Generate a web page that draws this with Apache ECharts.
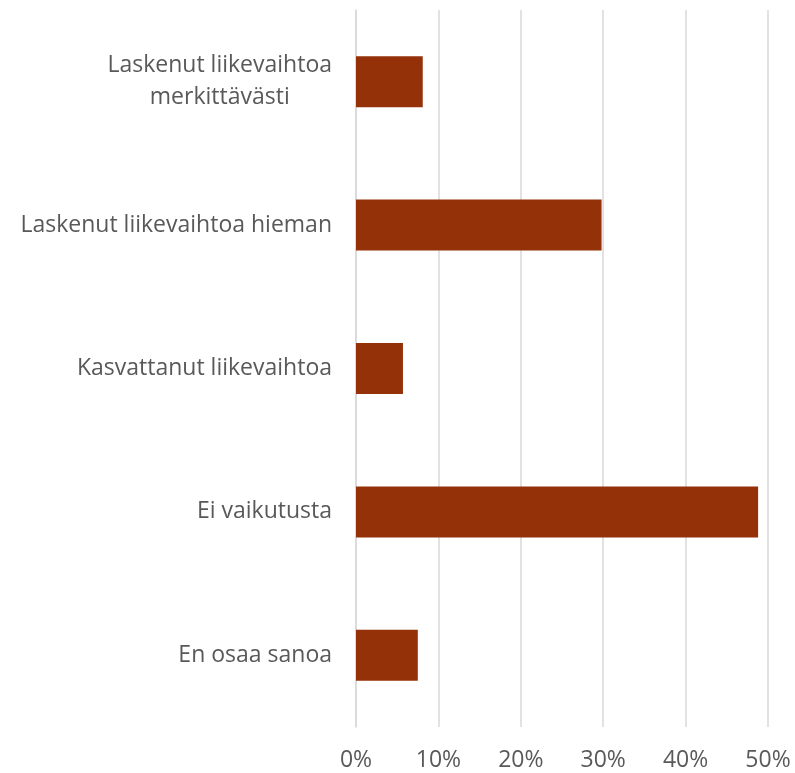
<!DOCTYPE html>
<html>
<head>
<meta charset="utf-8">
<script src="https://cdn.jsdelivr.net/npm/echarts@6/dist/echarts.min.js"></script>
<style>
  html, body { margin: 0; padding: 0; background: #fff; }
  #chart { width: 795px; height: 773px; }
</style>
</head>
<body>
<div id="chart"></div>
<script>
  // categories top to bottom as shown
  const categories = [
    'Laskenut liikevaihtoa\nmerkittävästi',
    'Laskenut liikevaihtoa hieman',
    'Kasvattanut liikevaihtoa',
    'Ei vaikutusta',
    'En osaa sanoa'
  ]
  // shares in percent
  const values = [8.1, 29.8, 5.7, 48.8, 7.5]
  const xTicks = [0, 10, 20, 30, 40, 50]

  const chart = echarts.init(document.getElementById('chart'))
  chart.setOption({
    animation: false,
    grid: { left: 356, right: 27, top: 10, bottom: 46 },
    xAxis: {
      type: 'value',
      min: xTicks[0],
      max: xTicks[xTicks.length - 1],
      interval: 10,
      axisLine: { show: false },
      axisTick: { show: false },
      splitLine: { lineStyle: { color: '#d9d9d9', width: 1.5 } },
      axisLabel: {
        color: '#595959',
        fontFamily: 'Open Sans',
        fontSize: 23,
        margin: 22,
        formatter: v => v + '%'
      }
    },
    yAxis: {
      type: 'category',
      inverse: true,
      data: categories,
      axisLine: { show: true, lineStyle: { color: '#d9d9d9', width: 1.5 } },
      axisTick: { show: false },
      axisLabel: {
        color: '#595959',
        fontFamily: 'Open Sans',
        fontSize: 23,
        margin: 24,
        lineHeight: 32,
        formatter: function (v) {
          // keep wrapped label lines centered on each other
          return v.split('\n').map(s => '{c|' + s + '}').join('\n')
        },
        rich: {
          c: { align: 'center', color: '#595959', fontFamily: 'Open Sans', fontSize: 23, lineHeight: 32 }
        }
      }
    },
    series: [
      {
        type: 'bar',
        data: values,
        barWidth: 51,
        itemStyle: { color: '#943109' }
      }
    ]
  })
</script>
</body>
</html>
